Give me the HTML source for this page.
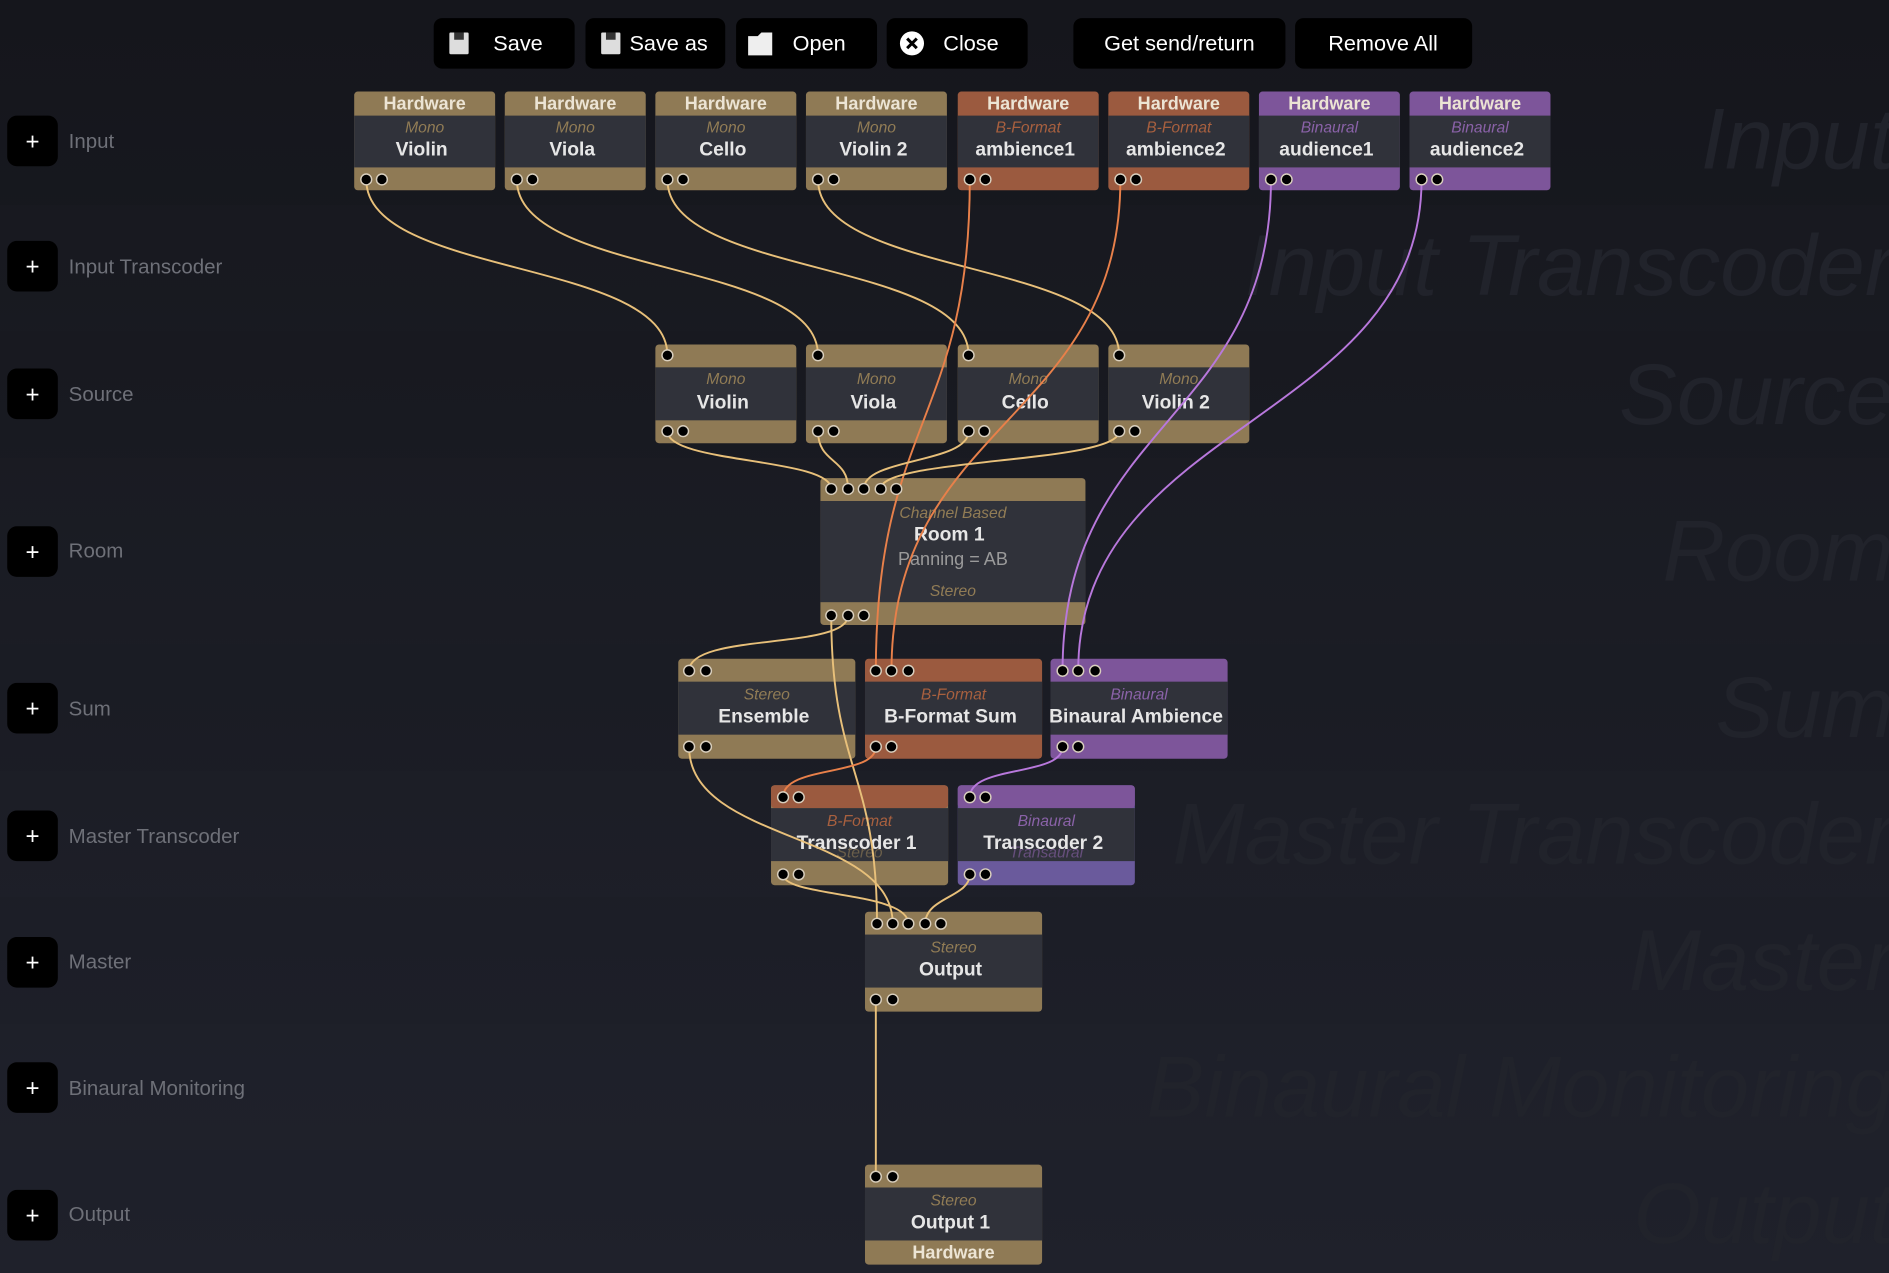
<!DOCTYPE html>
<html><head><meta charset="utf-8"><style>
html,body{margin:0;padding:0;background:#17181f;overflow:hidden}
svg{display:block}
text{font-family:"Liberation Sans","DejaVu Sans",sans-serif;text-anchor:middle}
.h{font-weight:bold;font-size:15px;fill:#ece4d4}
.s{font-style:italic;font-size:13px}
.t{font-weight:bold;font-size:16px;fill:#e6e6e6}
.sg{fill:#917c55}.so{fill:#a8603f}.sp{fill:#8a62a8}
.p{fill:#000;stroke:#d9cfbe;stroke-width:1.2}
.wm{font-style:italic;font-size:72px;fill:#21232b;text-anchor:end}
.lb{font-size:17px;fill:#6e7078;text-anchor:start}
.pl{font-size:20px;fill:#fff}
.bt{font-size:18px;fill:#fff}
.cg{fill:none;stroke:#e8c07a;stroke-width:1.6}
.co{fill:none;stroke:#e8804a;stroke-width:1.6}
.cp{fill:none;stroke:#b878dc;stroke-width:1.6}
</style></head><body>
<svg width="1889" height="1273" viewBox="0 0 1568 1057" preserveAspectRatio="none" xmlns="http://www.w3.org/2000/svg">
<defs><linearGradient id="bg" x1="0" y1="0" x2="0" y2="1"><stop offset="0" stop-color="#15161c"/><stop offset="1" stop-color="#1f212b"/></linearGradient></defs>
<rect width="1568" height="1057" fill="url(#bg)"/>
<g fill="#ffffff" opacity="0.008">
<rect y="170" width="1568" height="105"/><rect y="380" width="1568" height="155"/><rect y="640" width="1568" height="105"/><rect y="850" width="1568" height="105"/>
</g>
<text class="wm" x="1572" y="140">Input</text>
<text class="wm" x="1572" y="245">Input Transcoder</text>
<text class="wm" x="1572" y="352">Source</text>
<text class="wm" x="1572" y="482">Room</text>
<text class="wm" x="1572" y="612">Sum</text>
<text class="wm" x="1572" y="717">Master Transcoder</text>
<text class="wm" x="1572" y="822">Master</text>
<text class="wm" x="1572" y="927">Binaural Monitoring</text>
<text class="wm" x="1572" y="1032">Output</text>
<g>
<rect x="360" y="15" width="117" height="42" rx="7" fill="#000"/>
<rect x="486" y="15" width="116" height="42" rx="7" fill="#000"/>
<rect x="611" y="15" width="117" height="42" rx="7" fill="#000"/>
<rect x="736" y="15" width="117" height="42" rx="7" fill="#000"/>
<rect x="891" y="15" width="176" height="42" rx="7" fill="#000"/>
<rect x="1075" y="15" width="147" height="42" rx="7" fill="#000"/>
<rect x="373" y="27" width="16" height="18" rx="1" fill="#ddd"/><rect x="377" y="27" width="8" height="6" fill="#333"/>
<rect x="499" y="27" width="16" height="18" rx="1" fill="#ddd"/><rect x="503" y="27" width="8" height="6" fill="#333"/>
<path d="M621 30 h8 l3 -3 h9 v19 h-20 z" fill="#eee"/>
<circle cx="757" cy="36" r="10" fill="#fff"/><path d="M753 32 l8 8 M761 32 l-8 8" stroke="#000" stroke-width="2.5"/>
<text class="bt" x="430" y="42">Save</text>
<text class="bt" x="555" y="42">Save as</text>
<text class="bt" x="680" y="42">Open</text>
<text class="bt" x="806" y="42">Close</text>
<text class="bt" x="979" y="42">Get send/return</text>
<text class="bt" x="1148" y="42">Remove All</text>
</g>
<g>
<rect x="6" y="96" width="42" height="42" rx="8" fill="#000"/><text class="pl" x="27" y="124">+</text><text class="lb" x="57" y="123">Input</text>
<rect x="6" y="200" width="42" height="42" rx="8" fill="#000"/><text class="pl" x="27" y="228">+</text><text class="lb" x="57" y="227">Input Transcoder</text>
<rect x="6" y="306" width="42" height="42" rx="8" fill="#000"/><text class="pl" x="27" y="334">+</text><text class="lb" x="57" y="333">Source</text>
<rect x="6" y="437" width="42" height="42" rx="8" fill="#000"/><text class="pl" x="27" y="465">+</text><text class="lb" x="57" y="463">Room</text>
<rect x="6" y="567" width="42" height="42" rx="8" fill="#000"/><text class="pl" x="27" y="595">+</text><text class="lb" x="57" y="594">Sum</text>
<rect x="6" y="673" width="42" height="42" rx="8" fill="#000"/><text class="pl" x="27" y="701">+</text><text class="lb" x="57" y="700">Master Transcoder</text>
<rect x="6" y="778" width="42" height="42" rx="8" fill="#000"/><text class="pl" x="27" y="806">+</text><text class="lb" x="57" y="804">Master</text>
<rect x="6" y="882" width="42" height="42" rx="8" fill="#000"/><text class="pl" x="27" y="910">+</text><text class="lb" x="57" y="909">Binaural Monitoring</text>
<rect x="6" y="988" width="42" height="42" rx="8" fill="#000"/><text class="pl" x="27" y="1016">+</text><text class="lb" x="57" y="1014">Output</text>
</g>
<g transform="translate(294,76)"><rect width="117" height="82" rx="3" fill="#8f7a55"/><rect y="20" width="117" height="43" fill="#30323a"/><text class="h" x="58.5" y="15">Hardware</text><text class="s sg" x="58.5" y="34">Mono</text><text class="t" x="56" y="53">Violin</text></g>
<g transform="translate(419,76)"><rect width="117" height="82" rx="3" fill="#8f7a55"/><rect y="20" width="117" height="43" fill="#30323a"/><text class="h" x="58.5" y="15">Hardware</text><text class="s sg" x="58.5" y="34">Mono</text><text class="t" x="56" y="53">Viola</text></g>
<g transform="translate(544,76)"><rect width="117" height="82" rx="3" fill="#8f7a55"/><rect y="20" width="117" height="43" fill="#30323a"/><text class="h" x="58.5" y="15">Hardware</text><text class="s sg" x="58.5" y="34">Mono</text><text class="t" x="56" y="53">Cello</text></g>
<g transform="translate(669,76)"><rect width="117" height="82" rx="3" fill="#8f7a55"/><rect y="20" width="117" height="43" fill="#30323a"/><text class="h" x="58.5" y="15">Hardware</text><text class="s sg" x="58.5" y="34">Mono</text><text class="t" x="56" y="53">Violin 2</text></g>
<g transform="translate(795,76)"><rect width="117" height="82" rx="3" fill="#9b5a3f"/><rect y="20" width="117" height="43" fill="#30323a"/><text class="h" x="58.5" y="15">Hardware</text><text class="s so" x="58.5" y="34">B-Format</text><text class="t" x="56" y="53">ambience1</text></g>
<g transform="translate(920,76)"><rect width="117" height="82" rx="3" fill="#9b5a3f"/><rect y="20" width="117" height="43" fill="#30323a"/><text class="h" x="58.5" y="15">Hardware</text><text class="s so" x="58.5" y="34">B-Format</text><text class="t" x="56" y="53">ambience2</text></g>
<g transform="translate(1045,76)"><rect width="117" height="82" rx="3" fill="#7d559a"/><rect y="20" width="117" height="43" fill="#30323a"/><text class="h" x="58.5" y="15">Hardware</text><text class="s sp" x="58.5" y="34">Binaural</text><text class="t" x="56" y="53">audience1</text></g>
<g transform="translate(1170,76)"><rect width="117" height="82" rx="3" fill="#7d559a"/><rect y="20" width="117" height="43" fill="#30323a"/><text class="h" x="58.5" y="15">Hardware</text><text class="s sp" x="58.5" y="34">Binaural</text><text class="t" x="56" y="53">audience2</text></g>
<g transform="translate(544,286)"><rect width="117" height="82" rx="3" fill="#8f7a55"/><rect y="19" width="117" height="44" fill="#30323a"/><text class="s sg" x="58.5" y="33">Mono</text><text class="t" x="56" y="53">Violin</text></g>
<g transform="translate(669,286)"><rect width="117" height="82" rx="3" fill="#8f7a55"/><rect y="19" width="117" height="44" fill="#30323a"/><text class="s sg" x="58.5" y="33">Mono</text><text class="t" x="56" y="53">Viola</text></g>
<g transform="translate(795,286)"><rect width="117" height="82" rx="3" fill="#8f7a55"/><rect y="19" width="117" height="44" fill="#30323a"/><text class="s sg" x="58.5" y="33">Mono</text><text class="t" x="56" y="53">Cello</text></g>
<g transform="translate(920,286)"><rect width="117" height="82" rx="3" fill="#8f7a55"/><rect y="19" width="117" height="44" fill="#30323a"/><text class="s sg" x="58.5" y="33">Mono</text><text class="t" x="56" y="53">Violin 2</text></g>
<g transform="translate(681,397)"><rect width="220" height="122" rx="3" fill="#8f7a55"/><rect y="19" width="220" height="84" fill="#30323a"/><text class="s sg" x="110" y="33">Channel Based</text><text class="t" x="107" y="52">Room 1</text><text x="110" y="72" style="font-size:15px;fill:#9a9a9a">Panning = AB</text><text class="s sg" x="110" y="98">Stereo</text></g>
<g transform="translate(563,547)"><rect width="147" height="83" rx="3" fill="#8f7a55"/><rect y="19" width="147" height="44" fill="#30323a"/><text class="s sg" x="73.5" y="34">Stereo</text><text class="t" x="71" y="53">Ensemble</text></g>
<g transform="translate(718,547)"><rect width="147" height="83" rx="3" fill="#9b5a3f"/><rect y="19" width="147" height="44" fill="#30323a"/><text class="s so" x="73.5" y="34">B-Format</text><text class="t" x="71" y="53">B-Format Sum</text></g>
<g transform="translate(872,547)"><rect width="147" height="83" rx="3" fill="#7d559a"/><rect y="19" width="147" height="44" fill="#30323a"/><text class="s sp" x="73.5" y="34">Binaural</text><text class="t" x="71" y="53">Binaural Ambience</text></g>
<g transform="translate(640,652)"><rect width="147" height="83" rx="3" fill="#8f7a55"/><rect width="147" height="19" rx="3" fill="#9b5a3f"/><rect y="19" width="147" height="44" fill="#30323a"/><text class="s so" x="73.5" y="34">B-Format</text><text class="s sg" x="73.5" y="60" opacity="0.6">Stereo</text><text class="t" x="71" y="53">Transcoder 1</text></g>
<g transform="translate(795,652)"><rect width="147" height="83" rx="3" fill="#6a5a9c"/><rect width="147" height="19" rx="3" fill="#7d559a"/><rect y="19" width="147" height="44" fill="#30323a"/><text class="s sp" x="73.5" y="34">Binaural</text><text class="s sp" x="73.5" y="60" opacity="0.6">Transaural</text><text class="t" x="71" y="53">Transcoder 2</text></g>
<g transform="translate(718,757)"><rect width="147" height="83" rx="3" fill="#8f7a55"/><rect y="19" width="147" height="44" fill="#30323a"/><text class="s sg" x="73.5" y="34">Stereo</text><text class="t" x="71" y="53">Output</text></g>
<g transform="translate(718,967)"><rect width="147" height="83" rx="3" fill="#8f7a55"/><rect y="19" width="147" height="44" fill="#30323a"/><text class="s sg" x="73.5" y="34">Stereo</text><text class="t" x="71" y="53">Output 1</text><text class="h" x="73.5" y="78">Hardware</text></g>
<path class="cg" d="M304 149 C304 230 554 215 554 295"/>
<path class="cg" d="M429 149 C429 230 679 215 679 295"/>
<path class="cg" d="M554 149 C554 230 804 215 804 295"/>
<path class="cg" d="M679 149 C679 230 929 215 929 295"/>
<path class="co" d="M805 149 C805 350 727 350 727 557"/>
<path class="co" d="M930 149 C930 350 740 350 740 557"/>
<path class="cp" d="M1055 149 C1055 350 882 350 882 557"/>
<path class="cp" d="M1180 149 C1180 350 895 350 895 557"/>
<path class="cg" d="M554 358 C554 385 690 380 690 406"/>
<path class="cg" d="M679 358 C679 385 704 380 704 406"/>
<path class="cg" d="M804 358 C804 385 717 380 717 406"/>
<path class="cg" d="M929 358 C929 385 731 380 731 406"/>
<path class="cg" d="M704 511 C704 540 572 525 572 557"/>
<path class="cg" d="M690 511 C690 640 728 640 728 767"/>
<path class="cg" d="M572 620 C572 700 741 690 741 767"/>
<path class="co" d="M727 620 C727 645 650 635 650 662"/>
<path class="cp" d="M882 620 C882 645 805 635 805 662"/>
<path class="cg" d="M650 726 C650 745 754 740 754 767"/>
<path class="cg" d="M805 726 C805 745 768 745 768 767"/>
<path class="cg" d="M727 830 L727 977"/>
<g class="p">
<circle cx="304" cy="149" r="4.5"/><circle cx="317" cy="149" r="4.5"/>
<circle cx="429" cy="149" r="4.5"/><circle cx="442" cy="149" r="4.5"/>
<circle cx="554" cy="149" r="4.5"/><circle cx="567" cy="149" r="4.5"/>
<circle cx="679" cy="149" r="4.5"/><circle cx="692" cy="149" r="4.5"/>
<circle cx="805" cy="149" r="4.5"/><circle cx="818" cy="149" r="4.5"/>
<circle cx="930" cy="149" r="4.5"/><circle cx="943" cy="149" r="4.5"/>
<circle cx="1055" cy="149" r="4.5"/><circle cx="1068" cy="149" r="4.5"/>
<circle cx="1180" cy="149" r="4.5"/><circle cx="1193" cy="149" r="4.5"/>
<circle cx="554" cy="295" r="4.5"/><circle cx="679" cy="295" r="4.5"/><circle cx="804" cy="295" r="4.5"/><circle cx="929" cy="295" r="4.5"/>
<circle cx="554" cy="358" r="4.5"/><circle cx="567" cy="358" r="4.5"/>
<circle cx="679" cy="358" r="4.5"/><circle cx="692" cy="358" r="4.5"/>
<circle cx="804" cy="358" r="4.5"/><circle cx="817" cy="358" r="4.5"/>
<circle cx="929" cy="358" r="4.5"/><circle cx="942" cy="358" r="4.5"/>
<circle cx="690" cy="406" r="4.5"/><circle cx="704" cy="406" r="4.5"/><circle cx="717" cy="406" r="4.5"/><circle cx="731" cy="406" r="4.5"/><circle cx="744" cy="406" r="4.5"/>
<circle cx="690" cy="511" r="4.5"/><circle cx="704" cy="511" r="4.5"/><circle cx="717" cy="511" r="4.5"/>
<circle cx="572" cy="557" r="4.5"/><circle cx="586" cy="557" r="4.5"/>
<circle cx="727" cy="557" r="4.5"/><circle cx="740" cy="557" r="4.5"/><circle cx="754" cy="557" r="4.5"/>
<circle cx="882" cy="557" r="4.5"/><circle cx="895" cy="557" r="4.5"/><circle cx="909" cy="557" r="4.5"/>
<circle cx="572" cy="620" r="4.5"/><circle cx="586" cy="620" r="4.5"/>
<circle cx="727" cy="620" r="4.5"/><circle cx="740" cy="620" r="4.5"/>
<circle cx="882" cy="620" r="4.5"/><circle cx="895" cy="620" r="4.5"/>
<circle cx="650" cy="662" r="4.5"/><circle cx="663" cy="662" r="4.5"/>
<circle cx="805" cy="662" r="4.5"/><circle cx="818" cy="662" r="4.5"/>
<circle cx="650" cy="726" r="4.5"/><circle cx="663" cy="726" r="4.5"/>
<circle cx="805" cy="726" r="4.5"/><circle cx="818" cy="726" r="4.5"/>
<circle cx="728" cy="767" r="4.5"/><circle cx="741" cy="767" r="4.5"/><circle cx="754" cy="767" r="4.5"/><circle cx="768" cy="767" r="4.5"/><circle cx="781" cy="767" r="4.5"/>
<circle cx="727" cy="830" r="4.5"/><circle cx="741" cy="830" r="4.5"/>
<circle cx="727" cy="977" r="4.5"/><circle cx="741" cy="977" r="4.5"/>
</g>
</svg>
</body></html>
